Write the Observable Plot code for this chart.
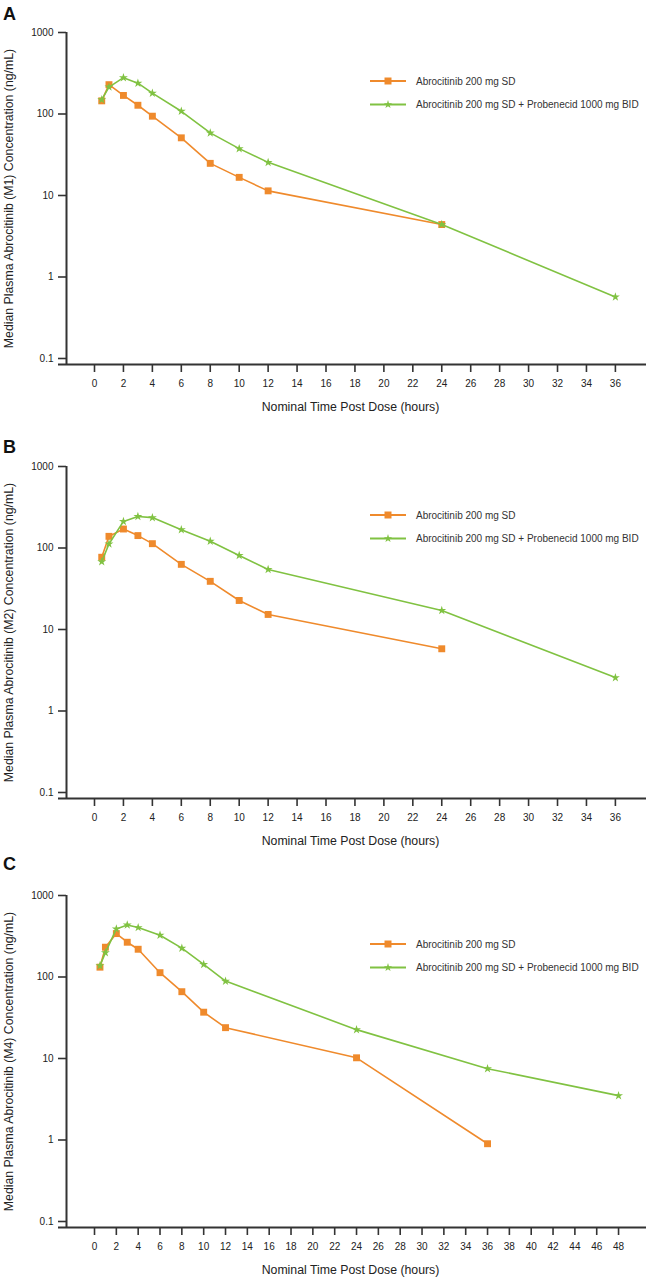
<!DOCTYPE html>
<html>
<head>
<meta charset="utf-8">
<script src="https://cdn.jsdelivr.net/npm/d3@7"></script>
<script src="https://cdn.jsdelivr.net/npm/@observablehq/plot@0.6"></script>
<style>
  html, body { margin: 0; padding: 0; background: #fff; }
  #root { position: relative; width: 646px; height: 1280px; overflow: hidden; font-family: "Liberation Sans", Arial, Helvetica, sans-serif; }
  .panel { position: absolute; left: 0; }
  .letter { position: absolute; left: 3px; font-size: 18px; line-height: 18px; font-weight: bold; color: #111; }
</style>
</head>
<body>
<div id="root"></div>
<script>
// ---- Data ----
const seriesNames = ["Abrocitinib 200 mg SD", "Abrocitinib 200 mg SD + Probenecid 1000 mg BID"];
const yTicks = [0.1, 1, 10, 100, 1000];
const xTicks36 = d3.range(0, 37, 2);
const xTicks48 = d3.range(0, 49, 2);
const xTitle = "Nominal Time Post Dose (hours)";

// Panel A: M1
const m1TimesSD = [0.5, 1, 2, 3, 4, 6, 8, 10, 12, 24];
const m1SD      = [145, 229, 169, 128, 94, 51, 24.8, 16.7, 11.4, 4.4];
const m1TimesPB = [0.5, 1, 2, 3, 4, 6, 8, 10, 12, 24, 36];
const m1PB      = [150, 214, 279, 239, 180, 108, 58.6, 37.6, 25.5, 4.4, 0.57];

// Panel B: M2
const m2TimesSD = [0.5, 1, 2, 3, 4, 6, 8, 10, 12, 24];
const m2SD      = [77, 139, 171, 142, 113, 63, 39, 22.7, 15.3, 5.8];
const m2TimesPB = [0.5, 1, 2, 3, 4, 6, 8, 10, 12, 24, 36];
const m2PB      = [68, 112, 212, 244, 236, 168, 121, 81, 54.4, 17.1, 2.57];

// Panel C: M4
const m4TimesSD = [0.5, 1, 2, 3, 4, 6, 8, 10, 12, 24, 36];
const m4SD      = [132, 232, 341, 267, 219, 113, 66, 37, 23.9, 10.2, 0.9];
const m4TimesPB = [0.5, 1, 2, 3, 4, 6, 8, 10, 12, 24, 36, 48];
const m4PB      = [138, 199, 389, 435, 404, 325, 226, 143, 89, 22.6, 7.5, 3.5];

// ---- Style ----
const ORANGE = "#ef8a2c";
const GREEN = "#80c242";
const AXIS = "#333333";
const TEXT = "#222222";
const FONT = "'Liberation Sans', Arial, Helvetica, sans-serif";

const root = document.getElementById("root");

function toRows(times, values) { return times.map((t, i) => ({t, v: values[i]})); }

function makePanel(cfg) {
  const plotH = 332;
  const sd = toRows(cfg.tSD, cfg.vSD);
  const pb = toRows(cfg.tPB, cfg.vPB);
  const yMin = 0.0844;
  const svg = Plot.plot({
    width: 646,
    height: cfg.height,
    marginTop: 32,
    marginLeft: 66,
    marginRight: 0,
    marginBottom: cfg.height - 32 - plotH,
    style: {fontFamily: FONT, fontSize: "10px", color: TEXT, background: "transparent", overflow: "visible"},
    x: {domain: cfg.xDomain},
    y: {type: "log", domain: [yMin, 1000]},
    marks: [
      Plot.axisY({ticks: yTicks, tickFormat: d => String(d), tickSize: 8, tickPadding: 5, label: null, stroke: AXIS, strokeWidth: 1.6}),
      Plot.axisX({ticks: cfg.xTicks, tickFormat: d => String(d), tickSize: 8, tickPadding: 7, label: null, stroke: AXIS, strokeWidth: 1.6}),
      Plot.ruleX([cfg.xDomain[0]], {stroke: AXIS, strokeWidth: 2}),
      Plot.ruleY([yMin], {stroke: AXIS, strokeWidth: 2, insetLeft: -8}),
      Plot.line(sd, {x: "t", y: "v", stroke: ORANGE, strokeWidth: 1.6}),
      Plot.dot(sd, {x: "t", y: "v", symbol: "square", r: 3.9, fill: ORANGE, stroke: "none"}),
      Plot.line(pb, {x: "t", y: "v", stroke: GREEN, strokeWidth: 1.6}),
      Plot.dot(pb, {x: "t", y: "v", symbol: "star", r: 2.8, fill: GREEN, stroke: "none"}),
      Plot.text([cfg.yTitle], {text: d => d, frameAnchor: "left", textAnchor: "middle", dx: -57, rotate: -90, fontSize: 12.3, fill: TEXT}),
      Plot.text([xTitle], {text: d => d, frameAnchor: "bottom", textAnchor: "middle", dy: 46, dx: -6, fontSize: 12.3, fill: TEXT})
    ]
  });

  // Legend
  const g = d3.select(svg).append("g").attr("font-family", FONT).attr("font-size", 10).attr("text-anchor", "start");
  const rows = [
    {name: seriesNames[0], color: ORANGE, sym: d3.symbol(d3.symbolSquare, 49)(), y: 81},
    {name: seriesNames[1], color: GREEN, sym: d3.symbol(d3.symbolStar, 22)(), y: 104.5}
  ];
  rows.forEach(r => {
    g.append("line").attr("x1", 370).attr("x2", 406).attr("y1", r.y).attr("y2", r.y)
      .attr("stroke", r.color).attr("stroke-width", 2);
    g.append("path").attr("d", r.sym).attr("transform", `translate(388,${r.y})`).attr("fill", r.color);
    g.append("text").attr("x", 416).attr("y", r.y).attr("dy", "0.35em").attr("fill", "#333").attr("text-anchor", "start").text(r.name);
  });

  const div = document.createElement("div");
  div.className = "panel";
  div.style.top = cfg.top + "px";
  div.appendChild(svg);
  root.appendChild(div);

  const letter = document.createElement("div");
  letter.className = "letter";
  letter.style.top = cfg.letterTop + "px";
  letter.textContent = cfg.letter;
  root.appendChild(letter);
}

makePanel({top: 0, height: 434, letter: "A", letterTop: 5, xDomain: [-1.935, 38.15], xTicks: xTicks36,
  tSD: m1TimesSD, vSD: m1SD, tPB: m1TimesPB, vPB: m1PB,
  yTitle: "Median Plasma Abrocitinib (M1) Concentration (ng/mL)"});
makePanel({top: 434, height: 429, letter: "B", letterTop: 438, xDomain: [-1.935, 38.15], xTicks: xTicks36,
  tSD: m2TimesSD, vSD: m2SD, tPB: m2TimesPB, vPB: m2PB,
  yTitle: "Median Plasma Abrocitinib (M2) Concentration (ng/mL)"});
makePanel({top: 863, height: 417, letter: "C", letterTop: 855, xDomain: [-2.565, 50.56], xTicks: xTicks48,
  tSD: m4TimesSD, vSD: m4SD, tPB: m4TimesPB, vPB: m4PB,
  yTitle: "Median Plasma Abrocitinib (M4) Concentration (ng/mL)"});
</script>
</body>
</html>
